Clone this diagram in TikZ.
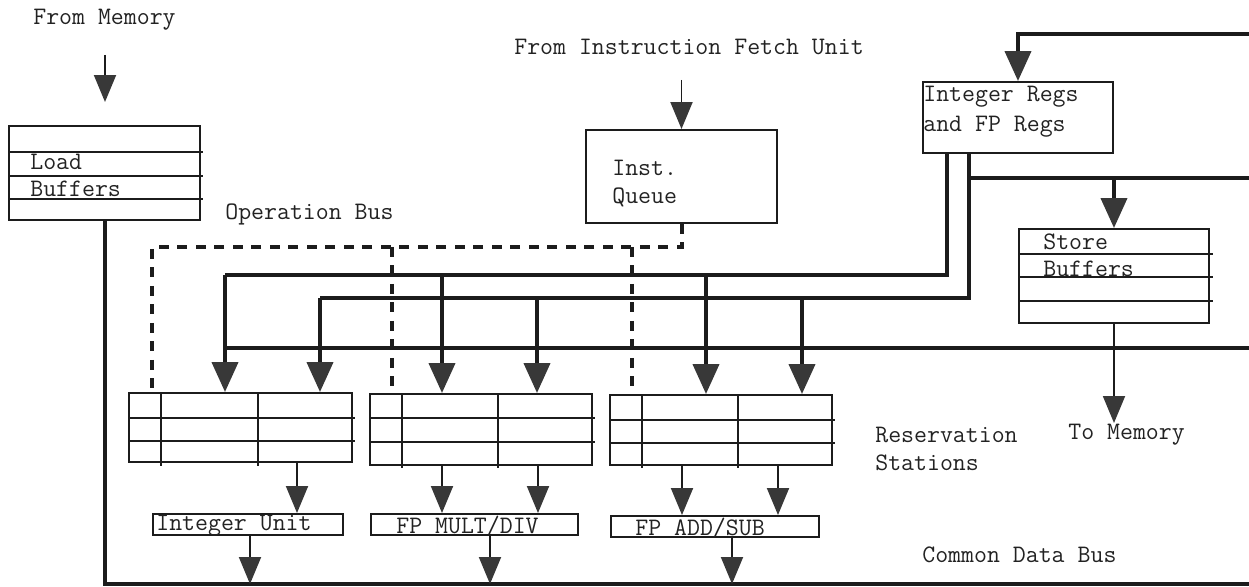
\documentclass[tikz,border=0pt]{standalone}
\usepackage{fontspec}
\usetikzlibrary{arrows.meta,fit}
\definecolor{ink}{HTML}{1C1C1C}
\definecolor{head}{HTML}{383838}
\definecolor{txt}{HTML}{222222}
\begin{document}
\begin{tikzpicture}[x=0.02cm,y=-0.02cm,
  box/.style={draw=ink, line width=1.1pt, inner sep=0pt},
  lbl/.style={anchor=west, inner sep=0pt, font=\ttfamily\fontsize{14.3}{17}\selectfont, text=txt},
  thinln/.style={draw=ink, line width=1.1pt},
  busln/.style={draw=ink, line width=2.3pt},
  cdbln/.style={draw=ink, line width=1.8pt},
  opbus/.style={draw=ink, line width=2pt, dash pattern=on 0.2cm off 0.17cm},
  bigarr/.style={-{Triangle[width=0.52cm,length=0.6cm,color=head]}},
  smallarr/.style={-{Triangle[width=0.44cm,length=0.54cm,color=head]}}]
\useasboundingbox (0,0) rectangle (1249,587);

% ---------- boxes ----------
\node[box, fit={(9,126) (200,220)}] (lb) {};
\node[box, fit={(586,130) (777,223)}] (iq) {};
\node[box, fit={(923,82) (1113,153)}] (regs) {};
\node[box, fit={(1019,229) (1209,323)}] (sb) {};
\node[box, fit={(129,393) (352,462)}] (rs1) {};
\node[box, fit={(370,394) (592,465)}] (rs2) {};
\node[box, fit={(610,395) (832,465)}] (rs3) {};
\node[box, fit={(153,514) (343,535)}] (iu) {};
\node[box, fit={(371,514) (578,535)}] (fmd) {};
\node[box, fit={(611,516) (819,537)}] (fas) {};

% inner lines of buffers
\foreach \yy in {152,176,199} \draw[thinln] (9,\yy) -- (203,\yy);
\foreach \yy in {254,277,301} \draw[thinln] (1019,\yy) -- (1213,\yy);
% reservation station grids
\foreach \yy in {418,441} \draw[thinln] (129,\yy) -- (355,\yy);
\foreach \xx in {161,258} \draw[thinln] (\xx,393) -- (\xx,466);
\foreach \yy in {418,442} \draw[thinln] (370,\yy) -- (595,\yy);
\foreach \xx in {402,498} \draw[thinln] (\xx,394) -- (\xx,468);
\foreach \yy in {420,443} \draw[thinln] (610,\yy) -- (835,\yy);
\foreach \xx in {642,738} \draw[thinln] (\xx,395) -- (\xx,468);

% ---------- texts ----------
\node[lbl] (tfm) at (33,20) {From Memory};
\node[lbl] (tif) at (514,47) {From Instruction Fetch Unit};
\node[lbl] (tob) at (225,214) {Operation Bus};
\node[lbl] (tlb1) at (30,162) {Load};
\node[lbl] (tlb2) at (30,189) {Buffers};
\node[lbl] (tiq1) at (612,168) {Inst.};
\node[lbl] (tiq2) at (612,197) {Queue};
\node[lbl] (trg1) at (923,97) {Integer Regs};
\node[lbl] (trg2) at (923,127) {and FP Regs};
\node[lbl] (tsb1) at (1043,242) {Store};
\node[lbl] (tsb2) at (1043,269) {Buffers};
\node[lbl] (trs1) at (875,435) {Reservation};
\node[lbl] (trs2) at (875,463) {Stations};
\node[lbl] (ttm) at (1068,435) {To Memory};
\node[lbl] (tcdb) at (922,555) {Common Data Bus};
\node[lbl] (tiu) at (156,526) {Integer Unit};
\node[lbl] (tfmd) at (396,526) {FP MULT/DIV};
\node[lbl] (tfas) at (635,528) {FP ADD/SUB};

% ---------- coordinates ----------
\coordinate (fm0) at (105,55);
\coordinate (fm1) at (105,102);
\coordinate (if0) at (681.5,80);
\coordinate (t0) at (1249,34);
\coordinate (t1) at (1018,34);
\coordinate (s0) at (969,178);
\coordinate (s1) at (1249,178);
\coordinate (s2) at (1114,178);
\coordinate (tm) at (1114,423);
\coordinate (u0) at (947,275);
\coordinate (u1) at (225,275);
\coordinate (u2) at (442,275);
\coordinate (u3) at (706,275);
\coordinate (m0) at (969,298);
\coordinate (m1) at (320,298);
\coordinate (m2) at (537,298);
\coordinate (m3) at (802,298);
\coordinate (l0) at (1249,348);
\coordinate (l1) at (225,348);
\coordinate (o0) at (682,247);
\coordinate (o1) at (152,247);
\coordinate (o2) at (392,247);
\coordinate (o3) at (632,247);
\coordinate (c0) at (105,584);
\coordinate (c1) at (1249,584);
\coordinate (c2) at (250,584);
\coordinate (c3) at (490,584);
\coordinate (c4) at (732,584);
\coordinate (k1) at (297,490);
\coordinate (k2) at (442,490);
\coordinate (k3) at (538,490);
\coordinate (k4) at (682,490);
\coordinate (k5) at (778,490);

% ---------- connectors ----------
\draw[thinln,smallarr] (fm0) -- (fm1);
\draw[thinln,smallarr] (if0) -- (iq.north);
\draw[busln,bigarr] (t0) -- (t1) -- (regs.north);
% register outputs
\draw[busln] (regs.south -| u0) -- (u0) -- (u1);
\draw[busln] (regs.south -| m0) -- (m0) -- (m1);
\draw[busln] (s0) -- (s1);
\draw[busln,bigarr] (s2) -- (sb.north);
\draw[thinln,smallarr] (sb.south) -- (tm);
% lower (CDB return) bus
\draw[busln] (l0) -- (l1);
% arrows into reservation stations
\draw[busln,bigarr] (u1) -- (rs1.north -| u1);
\draw[busln,bigarr] (m1) -- (rs1.north -| m1);
\draw[busln,bigarr] (u2) -- (rs2.north -| u2);
\draw[busln,bigarr] (m2) -- (rs2.north -| m2);
\draw[busln,bigarr] (u3) -- (rs3.north -| u3);
\draw[busln,bigarr] (m3) -- (rs3.north -| m3);
% operation bus
\draw[opbus] (iq.south -| o0) -- (o0) -- (o1) -- (rs1.north -| o1);
\draw[opbus] (o2) -- (rs2.north -| o2);
\draw[opbus] (o3) -- (rs3.north -| o3);
% reservation stations to units
\draw[thinln,smallarr] (rs1.south -| k1) -- (iu.north -| k1);
\draw[thinln,smallarr] (rs2.south -| k2) -- (fmd.north -| k2);
\draw[thinln,smallarr] (rs2.south -| k3) -- (fmd.north -| k3);
\draw[thinln,smallarr] (rs3.south -| k4) -- (fas.north -| k4);
\draw[thinln,smallarr] (rs3.south -| k5) -- (fas.north -| k5);
% common data bus
\draw[cdbln] (lb.south -| c0) -- (c0) -- (c1);
\draw[thinln,smallarr] (iu.south -| c2) -- (c2);
\draw[thinln,smallarr] (fmd.south -| c3) -- (c3);
\draw[thinln,smallarr] (fas.south -| c4) -- (c4);
\end{tikzpicture}
\end{document}
